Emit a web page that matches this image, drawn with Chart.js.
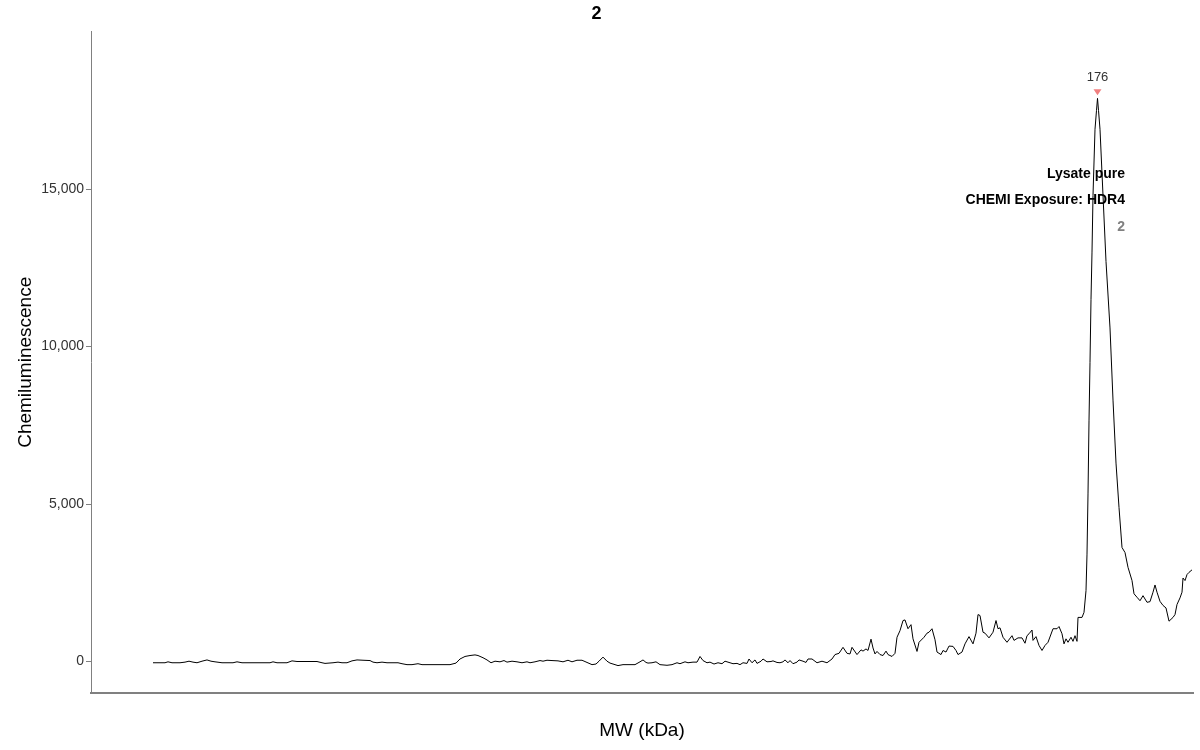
<!DOCTYPE html>
<html>
<head>
<meta charset="utf-8">
<title>2</title>
<script src="https://cdn.jsdelivr.net/npm/chart.js@4.4.1/dist/chart.umd.min.js"></script>
<style>
  html, body { margin: 0; padding: 0; background: #fff; }
  #wrap { width: 1200px; height: 750px; position: relative; }
</style>
</head>
<body>
<div id="wrap"><canvas id="chart"></canvas></div>
<script>
// lane position (arbitrary units along the lane) and chemiluminescence signal
const lanePos = [
  62, 74, 77, 81, 89, 94, 98, 102, 106, 111, 116, 120, 124, 131, 142, 146, 151, 167, 179, 182,
  186, 196, 201, 206, 226, 231, 234, 242, 247, 251, 256, 261, 266, 272, 279, 282, 286, 291, 296, 307,
  311, 316, 321, 327, 331, 359, 365, 369, 374, 379, 384, 387, 392, 396, 400, 404, 409, 413, 416, 421,
  426, 431, 436, 439, 444, 449, 452, 456, 461, 467, 472, 477, 481, 486, 491, 496, 501, 505, 508, 512,
  516, 519, 524, 527, 532, 544, 549, 552, 555, 557, 561, 565, 569, 576, 581, 586, 589, 594, 597, 602,
  606, 609, 612, 616, 619, 623, 627, 631, 634, 639, 642, 646, 649, 652, 656, 658, 661, 664, 666, 670,
  672, 676, 680, 682, 686, 689, 692, 694, 697, 699, 702, 706, 708, 712, 715, 717, 721, 726, 731, 736,
  741, 744, 748, 752, 756, 759, 761, 766, 770, 772, 775, 777, 780, 782, 784, 786, 789, 792, 795, 797,
  801, 804, 806, 809, 812, 814, 817, 820, 822, 826, 828, 833, 836, 838, 841, 844, 846, 850, 852, 855,
  858, 862, 865, 867, 871, 874, 878, 882, 885, 887, 889, 892, 894, 898, 902, 905, 907, 909, 912, 916,
  921, 923, 927, 931, 934, 936, 938, 941, 942, 945, 948, 951, 954, 957, 962, 966, 968, 971, 973, 975,
  977, 980, 982, 984, 986, 987, 991, 993, 995, 996, 997, 998, 999, 1000, 1001, 1002, 1004, 1005.5, 1006.5, 1007.5,
  1009, 1012, 1015, 1019, 1022, 1025, 1028, 1031, 1034, 1037, 1041, 1043, 1046, 1049, 1052, 1056, 1059, 1062, 1064, 1066,
  1069, 1072, 1075, 1078, 1082, 1084, 1086, 1089, 1091, 1092, 1094, 1096, 1098, 1101
]
const signal = [
  -40, -40, -10, -40, -40, -20, 10, -20, -40, 10, 50, 10, -10, -40, -40, -10, -40, -40, -40, -10,
  -40, -40, 20, 0, 0, -40, -60, -40, -20, -40, -40, 20, 50, 40, 30, -20, -40, -20, -40, -40,
  -70, -100, -100, -70, -100, -100, -50, 80, 160, 190, 210, 190, 120, 50, -40, 10, -10, 30, -20, 10,
  -10, -40, -10, -40, -10, 30, 10, 40, 30, 20, -10, 40, -10, 40, 40, -30, -100, -80, 10, 140,
  10, -50, -100, -130, -100, -100, -10, 50, -30, -50, -40, -10, -100, -120, -100, -40, -70, -10, -40, -20,
  -20, 160, 30, -40, -20, -80, -40, -70, 10, -40, -70, -60, -100, -40, -60, 80, -40, 50, -60, 10,
  80, -10, 0, 20, -30, -40, -10, 50, -40, 30, -70, -20, 50, 10, -30, 80, 80, -40, 10, -40,
  80, 220, 260, 450, 260, 240, 450, 220, 370, 330, 400, 350, 710, 430, 240, 320, 220, 190, 330, 220,
  160, 260, 770, 980, 1300, 1320, 1040, 1170, 720, 320, 610, 770, 900, 930, 1040, 690, 300, 220, 350, 300,
  490, 480, 350, 220, 300, 560, 790, 560, 900, 1490, 1460, 930, 900, 750, 930, 1300, 1040, 1070, 770, 610,
  820, 670, 750, 750, 580, 820, 880, 1000, 670, 790, 510, 350, 510, 610, 1040, 1040, 1110, 880, 560, 720,
  610, 770, 640, 820, 640, 1400, 1400, 1560, 2250, 3410, 5320, 7640, 9500, 11500, 13000, 14800, 16900, 17500, 17880, 17500,
  16900, 14800, 12700, 10590, 8300, 6300, 4890, 3620, 3460, 2990, 2570, 2150, 2040, 1930, 2090, 1880, 1900, 2200, 2430, 2200,
  1910, 1780, 1700, 1280, 1400, 1490, 1810, 2020, 2200, 2650, 2570, 2760, 2830, 2910
]
const yTicks = [0, 5000, 10000, 15000]
const chartTitle = "2"
const peakLabel = "176"
const infoLines = ["Lysate pure", "CHEMI Exposure: HDR4", "2"]

const FONT = "'Liberation Sans', Arial, sans-serif"

// peak marker + label text block
const annotatePlugin = {
  id: "annotate",
  afterDatasetsDraw(chart) {
    const { ctx, chartArea, scales } = chart
    // find the peak from the data
    let iMax = 0
    signal.forEach((v, i) => { if (v > signal[iMax]) iMax = i })
    const px = scales.x.getPixelForValue(lanePos[iMax])
    const py = scales.y.getPixelForValue(signal[iMax])

    ctx.save()
    // downward triangle
    ctx.fillStyle = "#f08080"
    ctx.beginPath()
    ctx.moveTo(px - 4, py - 9)
    ctx.lineTo(px + 4, py - 9)
    ctx.lineTo(px, py - 3)
    ctx.closePath()
    ctx.fill()

    ctx.fillStyle = "#333"
    ctx.font = "13px " + FONT
    ctx.textAlign = "center"
    ctx.textBaseline = "middle"
    ctx.fillText(peakLabel, px, py - 21)

    // sample info, right aligned
    ctx.textAlign = "right"
    ctx.font = "bold 14px " + FONT
    const xr = chartArea.right - 68
    const offs = [143, 169, 196]
    infoLines.forEach((t, i) => {
      ctx.fillStyle = i === 2 ? "#808080" : "#000"
      ctx.fillText(t, xr, chartArea.top + offs[i])
    })
    ctx.restore()
  }
}

const ctx = document.getElementById("chart").getContext("2d")
new Chart(ctx, {
  type: "line",
  data: {
    datasets: [{
      data: lanePos.map((x, i) => ({ x: x, y: signal[i] })),
      borderColor: "#000",
      borderWidth: 1,
      pointRadius: 0,
      tension: 0,
      fill: false
    }]
  },
  options: {
    responsive: true,
    maintainAspectRatio: false,
    animation: false,
    layout: { padding: { left: 0, right: 7, top: 0, bottom: 0 } },
    plugins: {
      legend: { display: false },
      tooltip: { enabled: false },
      title: {
        display: true,
        text: chartTitle,
        color: "#000",
        font: { family: FONT, size: 18, weight: "bold" },
        padding: { top: 3, bottom: 7 }
      }
    },
    scales: {
      x: {
        type: "linear",
        min: 0,
        max: 1102,
        ticks: { display: false },
        grid: { display: false },
        border: { display: true, color: "#808080", width: 2 },
        title: {
          display: true,
          text: "MW (kDa)",
          color: "#000",
          font: { family: FONT, size: 19 },
          padding: { top: 0, bottom: 8 }
        },
        afterFit(scale) { scale.height = 57 }
      },
      y: {
        min: -1000,
        max: 20000,
        afterBuildTicks(scale) { scale.ticks = yTicks.map((v) => ({ value: v })) },
        ticks: {
          color: "#333",
          padding: 2,
          font: { family: FONT, size: 14 }
        },
        grid: { drawOnChartArea: false, drawTicks: true, tickLength: 5, color: "#808080" },
        border: { display: true, color: "#808080", width: 1 },
        title: {
          display: true,
          text: "Chemiluminescence",
          color: "#000",
          font: { family: FONT, size: 19 },
          padding: { top: 14, bottom: 0 }
        },
        afterFit(scale) { scale.width = 91 }
      }
    }
  },
  plugins: [annotatePlugin]
})
</script>
</body>
</html>
